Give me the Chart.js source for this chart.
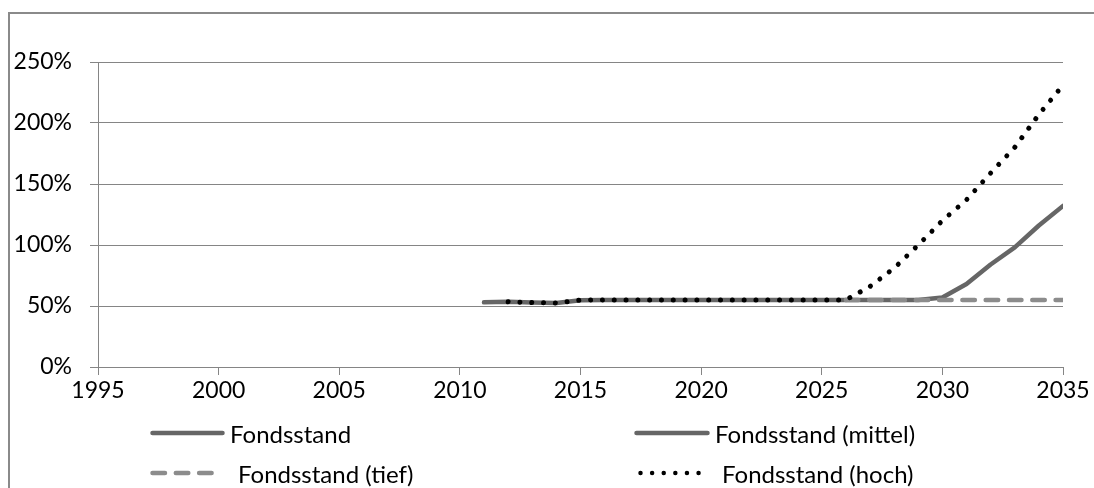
<!DOCTYPE html>
<html>
<head>
<meta charset="utf-8">
<script src="https://cdn.jsdelivr.net/npm/chart.js@4/dist/chart.umd.min.js"></script>
<style>
  html, body { margin: 0; padding: 0; background: #fff; }
  body { width: 1094px; height: 488px; position: relative; overflow: hidden; font-family: Lato, "Open Sans", sans-serif; }
  #frame { position: absolute; left: 8px; top: 12px; width: 1200px; height: 600px; border: 2px solid #8a8a8a; box-sizing: border-box; }
  #c { position: absolute; left: 0; top: 0; }
  .item { position: absolute; height: 28px; display: flex; align-items: center; font-size: 24px; color: #000; white-space: nowrap; }
  .item svg { display: block; flex: none; }
</style>
</head>
<body>
<div id="frame"></div>
<canvas id="c" width="1094" height="488"></canvas>
<div id="legend"></div>
<script>
// Jahre und Fondsstände in Prozent
const yearsHist = [2011, 2012, 2013, 2014, 2015, 2016, 2017, 2018, 2019, 2020, 2021, 2022, 2023, 2024, 2025, 2026];
const fondsstand = [53, 53.5, 52.8, 52.4, 54.8, 55, 55, 55, 55, 55, 55, 55, 55, 55, 55, 55];

const yearsScen = [2026, 2027, 2028, 2029, 2030, 2031, 2032, 2033, 2034, 2035];
const fondsMittel = [55, 55, 55, 55, 57, 68, 84, 98, 116, 132];
const fondsTief = [55, 55, 55, 55, 55, 55, 55, 55, 55, 55];

const yearsHoch = [2012, 2013, 2014, 2015, 2016, 2017, 2018, 2019, 2020, 2021, 2022, 2023, 2024, 2025, 2026, 2027, 2028, 2029, 2030, 2031, 2032, 2033, 2034, 2035];
const fondsHoch = [53.5, 52.8, 52.4, 54.8, 55, 55, 55, 55, 55, 55, 55, 55, 55, 55, 55, 66, 81, 100, 120, 137, 159, 180, 207, 231];

const xTicks = [1995, 2000, 2005, 2010, 2015, 2020, 2025, 2030, 2035];
const yTicks = [0, 50, 100, 150, 200, 250];

const seriesNames = ['Fondsstand', 'Fondsstand (mittel)', 'Fondsstand (tief)', 'Fondsstand (hoch)'];

const pts = (xs, ys) => xs.map((x, i) => ({ x: x, y: ys[i] }));

const DARK = '#666666';
const LIGHT = '#8c8c8c';
const AXIS = '#858585';
const FONT = { family: 'Lato, "Open Sans", sans-serif', size: 23 };

const common = { pointRadius: 0, pointHoverRadius: 0, fill: false, tension: 0, borderJoinStyle: 'round' };

new Chart(document.getElementById('c'), {
  type: 'line',
  data: {
    datasets: [
      Object.assign({ label: seriesNames[3], data: pts(yearsHoch, fondsHoch), borderColor: '#000', borderWidth: 5,
        borderDash: [0.01, 11.8], borderCapStyle: 'round', order: 0 }, common),
      Object.assign({ label: seriesNames[2], data: pts(yearsScen, fondsTief), borderColor: LIGHT, borderWidth: 4.5,
        borderDash: [12.5, 10.8], borderCapStyle: 'round', order: 1 }, common),
      Object.assign({ label: seriesNames[1], data: pts(yearsScen, fondsMittel), borderColor: DARK, borderWidth: 4.5,
        borderCapStyle: 'round', order: 2 }, common),
      Object.assign({ label: seriesNames[0], data: pts(yearsHist, fondsstand), borderColor: DARK, borderWidth: 4.5,
        borderCapStyle: 'round', order: 3 }, common)
    ]
  },
  options: {
    responsive: false,
    animation: false,
    devicePixelRatio: 1,
    layout: { padding: { left: 0, top: 62, right: 31, bottom: 0 } },
    plugins: { legend: { display: false }, tooltip: { enabled: false } },
    scales: {
      x: {
        type: 'linear',
        min: xTicks[0],
        max: xTicks[xTicks.length - 1],
        afterBuildTicks: (s) => { s.ticks = xTicks.map(v => ({ value: v })); },
        afterFit: (s) => { s.height = 121; },
        grid: { drawOnChartArea: false, drawTicks: true, tickLength: 8, color: AXIS, lineWidth: 1 },
        border: { display: true, color: AXIS, width: 1 },
        ticks: { color: '#000', font: FONT, padding: 2, maxRotation: 0, autoSkip: false, callback: (v) => String(v) }
      },
      y: {
        min: yTicks[0],
        max: yTicks[yTicks.length - 1],
        afterBuildTicks: (s) => { s.ticks = yTicks.map(v => ({ value: v })); },
        afterFit: (s) => { s.width = 98; },
        grid: { drawOnChartArea: true, drawTicks: true, tickLength: 8, color: AXIS, lineWidth: 1 },
        border: { display: true, color: AXIS, width: 1 },
        ticks: { color: '#000', font: FONT, padding: 18, callback: (v) => v + '%' }
      }
    }
  }
});

// Legende: zwei Spalten, zwei Zeilen
const legendItems = [
  { name: seriesNames[0], x: 150, y: 433, kind: 'solid', color: DARK, len: 75, gap: 5 },
  { name: seriesNames[1], x: 634, y: 433, kind: 'solid', color: DARK, len: 76, gap: 5 },
  { name: seriesNames[2], x: 150, y: 473, kind: 'dash', color: LIGHT, len: 72, gap: 16 },
  { name: seriesNames[3], x: 638, y: 473, kind: 'dot', color: '#000', len: 64, gap: 20 }
];
const legend = document.getElementById('legend');
legendItems.forEach(it => {
  const div = document.createElement('div');
  div.className = 'item';
  div.style.left = it.x + 'px';
  div.style.top = (it.y - 14) + 'px';
  let stroke = '';
  if (it.kind === 'solid') stroke = `<line x1="2.5" y1="14" x2="${it.len - 2.5}" y2="14" stroke="${it.color}" stroke-width="4.5" stroke-linecap="round"/>`;
  if (it.kind === 'dash') stroke = `<line x1="2.5" y1="14" x2="${it.len}" y2="14" stroke="${it.color}" stroke-width="4.5" stroke-linecap="round" stroke-dasharray="12.5 10.8"/>`;
  if (it.kind === 'dot') stroke = `<line x1="2.5" y1="14" x2="${it.len}" y2="14" stroke="${it.color}" stroke-width="4.5" stroke-linecap="round" stroke-dasharray="0.01 11.6"/>`;
  div.innerHTML = `<svg width="${it.len}" height="28">${stroke}</svg><span style="margin-left:${it.gap}px">${it.name}</span>`;
  legend.appendChild(div);
});
</script>
</body>
</html>
